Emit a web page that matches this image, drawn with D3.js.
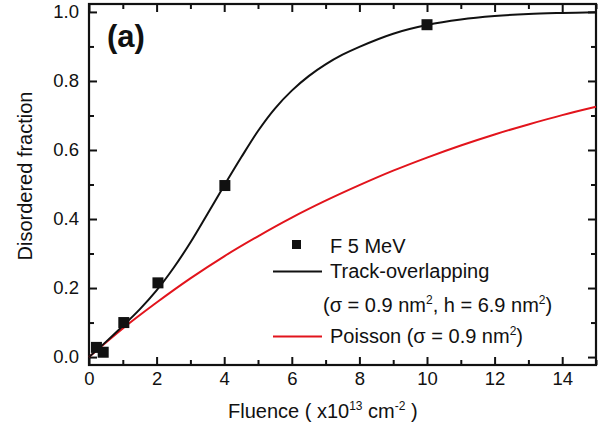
<!DOCTYPE html>
<html>
<head>
<meta charset="utf-8">
<script src="https://cdn.jsdelivr.net/npm/d3@7"></script>
<style>
  body { margin: 0; background: #fff; }
  svg text { font-family: "Liberation Sans", Arial, sans-serif; fill: #111; }
</style>
</head>
<body>
<div id="canvas"></div>
<script>
// measured points (F 5 MeV)
const dataFluence = [0.22, 0.42, 1.03, 2.04, 4.02, 10.0];
const dataFraction = [0.028, 0.014, 0.10, 0.215, 0.497, 0.963];

// track-overlapping curve
const trackFluence = [0, 0.5, 1, 1.5, 2, 2.5, 3, 3.5, 4, 4.5, 5, 5.5, 6, 6.5, 7, 7.5, 8, 9, 10, 11, 12, 13, 14, 15];
const trackFraction = [0, 0.044, 0.09, 0.138, 0.193, 0.258, 0.332, 0.414, 0.497, 0.578, 0.655, 0.72, 0.772, 0.814, 0.848, 0.876, 0.899, 0.937, 0.962, 0.978, 0.988, 0.994, 0.997, 0.999];

// Poisson curve
const poissonFluence = [0, 1, 2, 3, 4, 5, 6, 7, 8, 9, 10, 11, 12, 13, 14, 15];
const poissonFraction = [0, 0.083, 0.158, 0.228, 0.292, 0.350, 0.404, 0.453, 0.498, 0.540, 0.578, 0.613, 0.645, 0.674, 0.701, 0.725];

const xMajor = [0, 2, 4, 6, 8, 10, 12, 14];
const xMinor = [1, 3, 5, 7, 9, 11, 13, 15];
const yMajor = [0.0, 0.2, 0.4, 0.6, 0.8, 1.0];
const yMinor = [0.1, 0.3, 0.5, 0.7, 0.9];

const w = 607, h = 432;
const margin = {top: 4, right: 11, bottom: 67, left: 89};
const red = "#e2141c";

const svg = d3.select("#canvas").append("svg")
  .attr("width", w).attr("height", h);

const x = d3.scaleLinear().domain([0, 15]).range([margin.left, w - margin.right]);
const y = d3.scaleLinear().domain([-0.023, 1.023]).range([h - margin.bottom, margin.top]);

const x0 = margin.left, x1 = w - margin.right, y0 = h - margin.bottom, y1 = margin.top;

// axes: major + minor ticks, all pointing inward
function styleAxis(g) {
  g.select(".domain").remove();
  g.selectAll(".tick line").attr("stroke", "#111").attr("stroke-width", 2);
  g.selectAll(".tick text").style("font-size", "18.5px");
}

svg.append("g").attr("transform", `translate(0,${y0})`)
  .call(d3.axisBottom(x).tickValues(xMajor).tickSize(-8).tickPadding(7).tickFormat(d3.format("d")))
  .call(styleAxis);
svg.append("g").attr("transform", `translate(0,${y0})`)
  .call(d3.axisBottom(x).tickValues(xMinor).tickSize(-5).tickFormat(""))
  .call(styleAxis);
svg.append("g").attr("transform", `translate(0,${y1})`)
  .call(d3.axisTop(x).tickValues(xMajor).tickSize(-8).tickFormat(""))
  .call(styleAxis);
svg.append("g").attr("transform", `translate(0,${y1})`)
  .call(d3.axisTop(x).tickValues(xMinor).tickSize(-5).tickFormat(""))
  .call(styleAxis);

svg.append("g").attr("transform", `translate(${x0},0)`)
  .call(d3.axisLeft(y).tickValues(yMajor).tickSize(-8).tickPadding(10).tickFormat(d3.format(".1f")))
  .call(styleAxis);
svg.append("g").attr("transform", `translate(${x0},0)`)
  .call(d3.axisLeft(y).tickValues(yMinor).tickSize(-5).tickFormat(""))
  .call(styleAxis);
svg.append("g").attr("transform", `translate(${x1},0)`)
  .call(d3.axisRight(y).tickValues(yMajor).tickSize(-8).tickFormat(""))
  .call(styleAxis);
svg.append("g").attr("transform", `translate(${x1},0)`)
  .call(d3.axisRight(y).tickValues(yMinor).tickSize(-5).tickFormat(""))
  .call(styleAxis);

// frame
svg.append("rect")
  .attr("x", x0).attr("y", y1)
  .attr("width", x1 - x0).attr("height", y0 - y1)
  .attr("fill", "none").attr("stroke", "#111").attr("stroke-width", 2.2);

// curves
const line = d3.line()
  .x(d => x(d[0])).y(d => y(d[1]))
  .curve(d3.curveCatmullRom);

svg.append("path")
  .datum(poissonFluence.map((f, i) => [f, poissonFraction[i]]))
  .attr("d", line).attr("fill", "none")
  .attr("stroke", red).attr("stroke-width", 2);

svg.append("path")
  .datum(trackFluence.map((f, i) => [f, trackFraction[i]]))
  .attr("d", line).attr("fill", "none")
  .attr("stroke", "#111").attr("stroke-width", 2);

// squares
const sq = 11;
svg.append("g").selectAll("rect")
  .data(dataFluence.map((f, i) => [f, dataFraction[i]]))
  .enter().append("rect")
  .attr("x", d => x(d[0]) - sq / 2)
  .attr("y", d => y(d[1]) - sq / 2)
  .attr("width", sq).attr("height", sq)
  .attr("fill", "#111");

// panel label
svg.append("text")
  .attr("x", 107).attr("y", 47)
  .style("font-size", "31px").style("font-weight", "bold")
  .text("(a)");

// axis titles
const xt = svg.append("text")
  .attr("x", 228).attr("y", 418)
  .style("font-size", "20px");
xt.append("tspan").text("Fluence ( x10");
xt.append("tspan").attr("dy", -8).style("font-size", "12px").text("13");
xt.append("tspan").attr("dy", 8).text(" cm");
xt.append("tspan").attr("dy", -8).style("font-size", "12px").text("-2");
xt.append("tspan").attr("dy", 8).text(" )");

svg.append("text")
  .attr("transform", "translate(32,176) rotate(-90)")
  .attr("text-anchor", "middle")
  .style("font-size", "20px")
  .text("Disordered fraction");

// legend
const lg = svg.append("g");
lg.append("rect")
  .attr("x", 292).attr("y", 240).attr("width", 9).attr("height", 9)
  .attr("fill", "#111");
lg.append("text").attr("x", 330).attr("y", 253)
  .style("font-size", "20px").text("F 5 MeV");

lg.append("line")
  .attr("x1", 273).attr("x2", 322).attr("y1", 271.5).attr("y2", 271.5)
  .attr("stroke", "#111").attr("stroke-width", 2);
lg.append("text").attr("x", 330).attr("y", 278)
  .style("font-size", "20px").text("Track-overlapping");

const l2 = lg.append("text").attr("x", 323).attr("y", 312)
  .style("font-size", "20px");
l2.append("tspan").text("(σ = 0.9 nm");
l2.append("tspan").attr("dy", -8).style("font-size", "12px").text("2");
l2.append("tspan").attr("dy", 8).text(", h = 6.9 nm");
l2.append("tspan").attr("dy", -8).style("font-size", "12px").text("2");
l2.append("tspan").attr("dy", 8).text(")");

lg.append("line")
  .attr("x1", 273).attr("x2", 322).attr("y1", 336.5).attr("y2", 336.5)
  .attr("stroke", red).attr("stroke-width", 2);
const l3 = lg.append("text").attr("x", 330).attr("y", 343)
  .style("font-size", "20px");
l3.append("tspan").text("Poisson (σ = 0.9 nm");
l3.append("tspan").attr("dy", -8).style("font-size", "12px").text("2");
l3.append("tspan").attr("dy", 8).text(")");
</script>
</body>
</html>
